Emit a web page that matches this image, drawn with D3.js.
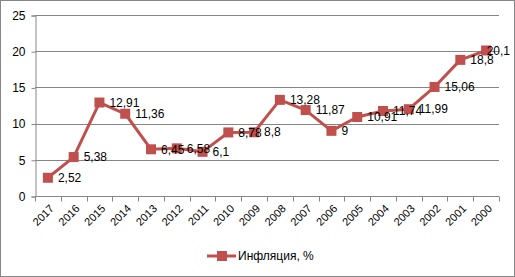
<!DOCTYPE html>
<html>
<head>
<meta charset="utf-8">
<script src="https://cdn.jsdelivr.net/npm/d3@7"></script>
<style>
  body { margin: 0; background: #fff; }
  text { font-family: "Liberation Sans", Arial, sans-serif; fill: #000; }
</style>
</head>
<body>
<div id="chart"></div>
<script>
// data
const years = ["2017", "2016", "2015", "2014", "2013", "2012", "2011", "2010", "2009",
               "2008", "2007", "2006", "2005", "2004", "2003", "2002", "2001", "2000"];
const inflation = [2.52, 5.38, 12.91, 11.36, 6.45, 6.58, 6.1, 8.78, 8.8,
                   13.28, 11.87, 9, 10.91, 11.74, 11.99, 15.06, 18.8, 20.1];
const yTicks = [0, 5, 10, 15, 20, 25];
const seriesName = "Инфляция, %";

let width = 515, height = 277;
let margin = {top: 15, right: 16, bottom: 81, left: 35};

let svg = d3.select("#chart")
    .append("svg")
    .attr("width", width)
    .attr("height", height);

// outer frame
svg.append("rect")
    .attr("x", 0.5).attr("y", 0.5)
    .attr("width", width - 1).attr("height", height - 1)
    .attr("fill", "#fff")
    .attr("stroke", "#868686");

let x = d3.scaleBand()
    .domain(years)
    .range([margin.left, width - margin.right]);

let y = d3.scaleLinear()
    .domain([0, 25])
    .range([height - margin.bottom, margin.top]);

// gridlines
svg.append("g")
    .selectAll("line")
    .data(yTicks.slice(1))
    .enter().append("line")
    .attr("x1", margin.left)
    .attr("x2", width - margin.right)
    .attr("y1", d => Math.round(y(d)) + 0.5)
    .attr("y2", d => Math.round(y(d)) + 0.5)
    .attr("stroke", "#868686");

// y axis
let yAxis = svg.append("g")
    .attr("transform", "translate(" + (margin.left + 0.5) + ",0.5)")
    .call(d3.axisLeft(y).tickValues(yTicks).tickSize(4).tickPadding(6).tickFormat(d3.format("d")));
yAxis.select(".domain").attr("stroke", "#868686");
yAxis.selectAll(".tick line").attr("stroke", "#868686");
yAxis.selectAll("text").style("font-size", "12px");

// x axis with ticks between categories
let xAxis = svg.append("g")
    .attr("transform", "translate(0," + (Math.round(y(0)) + 0.5) + ")");
xAxis.append("line")
    .attr("x1", margin.left).attr("x2", width - margin.right)
    .attr("stroke", "#868686");
xAxis.selectAll(".tk")
    .data(years.concat(["end"]))
    .enter().append("line")
    .attr("x1", (d, i) => Math.round(margin.left + i * x.step()) + 0.5)
    .attr("x2", (d, i) => Math.round(margin.left + i * x.step()) + 0.5)
    .attr("y1", 0).attr("y2", 5)
    .attr("stroke", "#868686");
xAxis.selectAll(".lbl")
    .data(years)
    .enter().append("text")
    .attr("transform", d => "translate(" + (x(d) + x.bandwidth() / 2 + 4) + ",10) rotate(-45)")
    .attr("text-anchor", "end")
    .attr("dy", "0.35em")
    .style("font-size", "11px")
    .text(d => d);

// the series
let pts = years.map((d, i) => ({year: d, value: inflation[i]}));

let line = d3.line()
    .x(d => x(d.year) + x.bandwidth() / 2)
    .y(d => y(d.value));

svg.append("path")
    .datum(pts)
    .attr("fill", "none")
    .attr("stroke", "#C0504D")
    .attr("stroke-width", 3)
    .attr("stroke-linejoin", "round")
    .attr("d", line);

svg.append("g")
    .selectAll("rect")
    .data(pts)
    .enter().append("rect")
    .attr("x", d => x(d.year) + x.bandwidth() / 2 - 5)
    .attr("y", d => y(d.value) - 5)
    .attr("width", 10)
    .attr("height", 10)
    .attr("fill", "#C0504D");

// data labels to the right; pushed back inside if they would run off the edge
svg.append("g")
    .selectAll("text")
    .data(pts)
    .enter().append("text")
    .attr("y", d => y(d.value))
    .attr("dy", "0.35em")
    .style("font-size", "12px")
    .text(d => String(d.value).replace(".", ","))
    .attr("x", function(d) {
        let px = x(d.year) + x.bandwidth() / 2 + 10;
        let w = this.getComputedTextLength();
        return Math.min(px, width - 5 - w);
    });

// legend
let legend = svg.append("g")
    .attr("transform", "translate(207,256)");
legend.append("line")
    .attr("x1", 0).attr("x2", 29)
    .attr("stroke", "#C0504D")
    .attr("stroke-width", 3);
legend.append("rect")
    .attr("x", 10).attr("y", -5)
    .attr("width", 10).attr("height", 10)
    .attr("fill", "#C0504D");
legend.append("text")
    .attr("x", 31)
    .attr("dy", "0.35em")
    .style("font-size", "12px")
    .text(seriesName);
</script>
</body>
</html>
